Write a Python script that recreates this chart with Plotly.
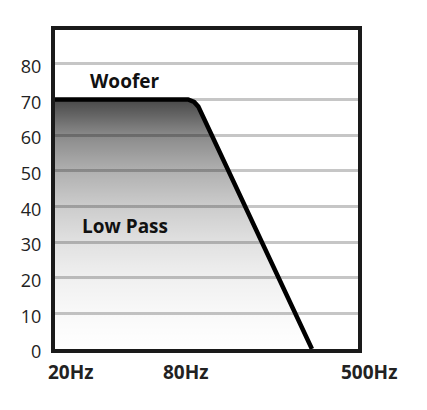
import plotly.graph_objects as go

# schematic x positions (0-100 across the frame), level in dB-ish units
curve_x = [0, 43.9, 45.9, 47.3, 84.8]
curve_y = [70, 70, 69.3, 68.0, 0]

freq_pos = [5.3, 43.2, 103.6]
freq_labels = ["20Hz", "80Hz", "500Hz"]

y_ticks = [0, 10, 20, 30, 40, 50, 60, 70, 80]

label_text = ["Woofer", "Low Pass"]
label_x = [23, 23]
label_y = [75.2, 34.4]

fig = go.Figure()
fig.add_trace(go.Scatter(
    x=curve_x, y=curve_y,
    mode="lines",
    line=dict(color="black", width=4.5),
    fill="tozeroy",
    fillgradient=dict(
        type="vertical",
        colorscale=[
            [0.0, "rgba(0,0,0,0)"],
            [0.143, "rgba(0,0,0,0.025)"],
            [0.286, "rgba(0,0,0,0.06)"],
            [0.43, "rgba(0,0,0,0.12)"],
            [0.571, "rgba(0,0,0,0.2)"],
            [0.714, "rgba(0,0,0,0.31)"],
            [0.857, "rgba(0,0,0,0.46)"],
            [1.0, "rgba(0,0,0,0.72)"],
        ],
    ),
    hoverinfo="skip",
    showlegend=False,
))

for t, x, y in zip(label_text, label_x, label_y):
    fig.add_annotation(x=x, y=y, text="<b>%s</b>" % t, showarrow=False,
                       font=dict(family="Open Sans", size=19, color="#111"))

# frequency labels sit under the frame, 500Hz hangs past its right edge
for t, x in zip(freq_labels, freq_pos):
    fig.add_annotation(x=x / 100, xref="paper", xanchor="center",
                       y=0, yref="paper", text="<b>%s</b>" % t,
                       showarrow=False, yanchor="middle", yshift=-23,
                       font=dict(family="Open Sans", size=19, color="#222"))

fig.update_xaxes(range=[0, 100], showgrid=False, zeroline=False,
                 showticklabels=False, ticks="",
                 showline=True, mirror=True, linewidth=4, linecolor="#1a1a1a")
fig.update_yaxes(range=[0, 89.5], tickvals=y_ticks, showgrid=True,
                 gridcolor="#c6c6c6", gridwidth=2.5, zeroline=False,
                 ticks="", showline=True, mirror=True, linewidth=4,
                 linecolor="#1a1a1a", ticklabelstandoff=6, ticklabelshift=3,
                 tickfont=dict(family="Open Sans", size=18, color="#222"))
# page body adds 8px, so the figure is 8px smaller to fit the window
fig.update_layout(width=419, height=402, plot_bgcolor="white",
                  paper_bgcolor="white",
                  margin=dict(l=47, r=69, t=22, b=61))
fig.write_html("out.html")
